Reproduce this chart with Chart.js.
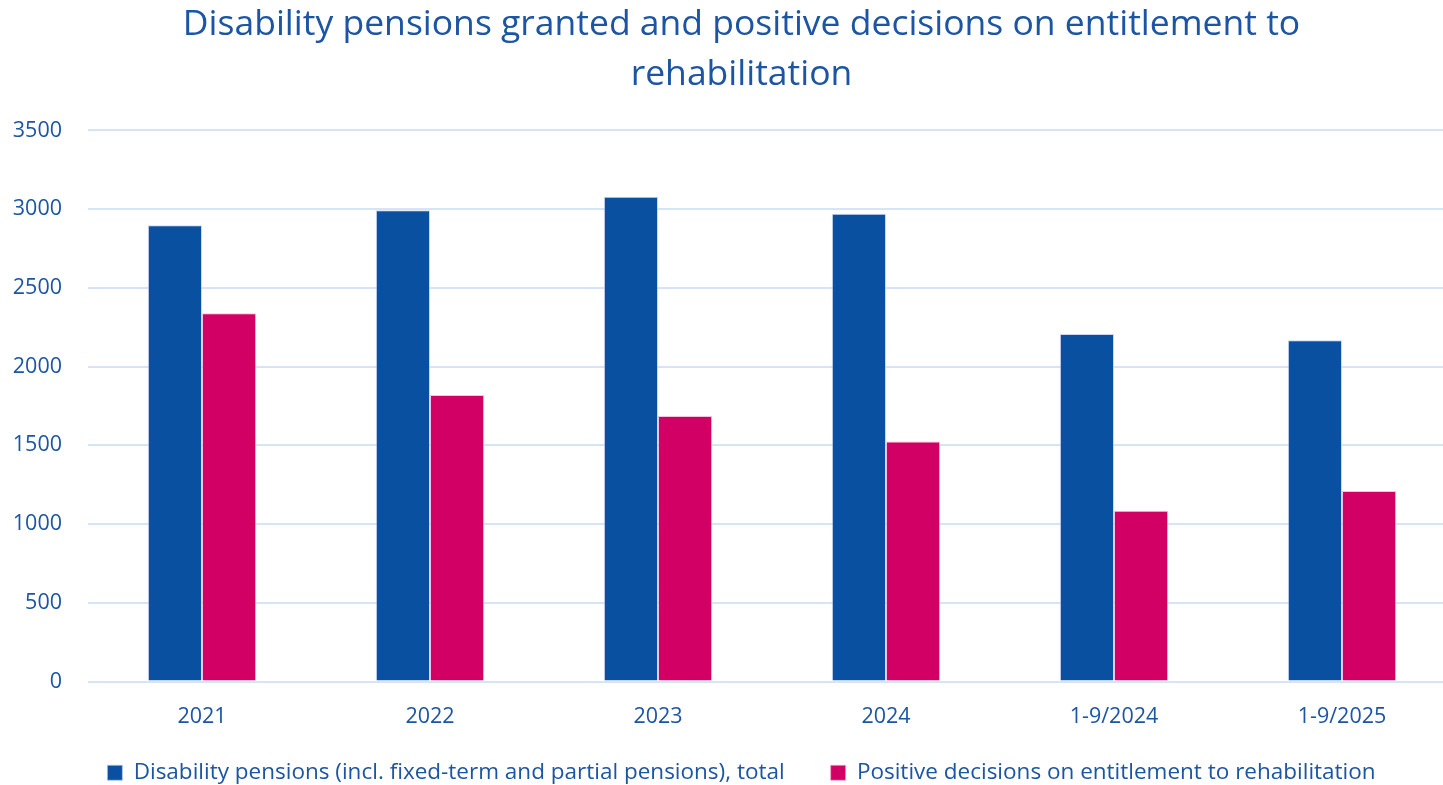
<!DOCTYPE html>
<html>
<head>
<meta charset="utf-8">
<title>Disability pensions and rehabilitation</title>
<script src="https://cdn.jsdelivr.net/npm/chart.js@4.4.1/dist/chart.umd.min.js"></script>
<style>
  html, body { margin: 0; padding: 0; background: #ffffff; overflow: hidden; }
  #wrap { width: 1443px; height: 785px; overflow: hidden; }
  #inner { width: 1483px; height: 785px; position: relative; }
</style>
</head>
<body>
<div id="wrap"><div id="inner"><canvas id="myChart"></canvas></div></div>
<script>
const categories = ['2021', '2022', '2023', '2024', '1-9/2024', '1-9/2025'];
const pensionsTotal = [2898, 2993, 3078, 2970, 2207, 2167];
const rehabDecisions = [2338, 1819, 1686, 1525, 1084, 1210];
const yTicks = [0, 500, 1000, 1500, 2000, 2500, 3000, 3500];

const textBlue = '#1B55A3';
const fontFamily = '"Open Sans", "Noto Sans", sans-serif';

// pull the plot's right edge in and give the x labels room below the axis box
const plotEdges = {
    id: 'plotEdges',
    afterLayout(chart) {
        const plotRight = 1456;
        const x = chart.scales.x;
        x.right = plotRight;
        x.width = plotRight - x.left;
        x.bottom = x.top + 60;
        chart.chartArea.right = plotRight;
        chart.chartArea.width = plotRight - chart.chartArea.left;
        x.configure();
    }
};

const ctx = document.getElementById('myChart').getContext('2d');
const myChart = new Chart(ctx, {
    type: 'bar',
    data: {
        labels: categories,
        datasets: [{
            label: 'Disability pensions (incl. fixed-term and partial pensions), total',
            data: pensionsTotal,
            backgroundColor: '#0A50A1',
            borderColor: 'rgba(180, 200, 235, 0.7)',
            borderWidth: 1,
            categoryPercentage: 0.475,
            barPercentage: 1.0
        }, {
            label: 'Positive decisions on entitlement to rehabilitation',
            data: rehabDecisions,
            backgroundColor: '#D20065',
            borderColor: 'rgba(240, 170, 205, 0.7)',
            borderWidth: 1,
            categoryPercentage: 0.475,
            barPercentage: 1.0
        }]
    },
    options: {
        responsive: true,
        maintainAspectRatio: false,
        animation: false,
        layout: {
            padding: { left: 0, right: 0, top: 0, bottom: -9 }
        },
        scales: {
            x: {
                afterFit(scale) {
                    scale.height = 34;
                },
                grid: { display: false },
                border: { display: false },
                ticks: {
                    color: textBlue,
                    padding: 14,
                    font: { family: fontFamily, size: 21.5 }
                }
            },
            y: {
                min: 0,
                max: 3500,
                afterFit(scale) {
                    scale.width = 88;
                },
                afterBuildTicks(scale) {
                    scale.ticks = yTicks.map(v => ({ value: v }));
                },
                grid: {
                    color: '#D5E4F6',
                    lineWidth: 2,
                    drawTicks: false
                },
                border: { display: false },
                ticks: {
                    color: textBlue,
                    padding: 26,
                    font: { family: fontFamily, size: 21.5 },
                    callback: (value) => String(value)
                }
            }
        },
        plugins: {
            title: {
                display: true,
                text: ['Disability pensions granted and positive decisions on entitlement to', 'rehabilitation'],
                color: textBlue,
                font: { family: fontFamily, size: 35.5, weight: 'normal', lineHeight: 1.4 },
                padding: { top: 0, bottom: 31 }
            },
            legend: {
                position: 'bottom',
                labels: {
                    color: textBlue,
                    boxWidth: 15,
                    boxHeight: 15,
                    padding: 46,
                    font: { family: fontFamily, size: 22.5 }
                }
            },
            tooltip: { enabled: false }
        }
    },
    plugins: [plotEdges]
});
</script>
</body>
</html>
